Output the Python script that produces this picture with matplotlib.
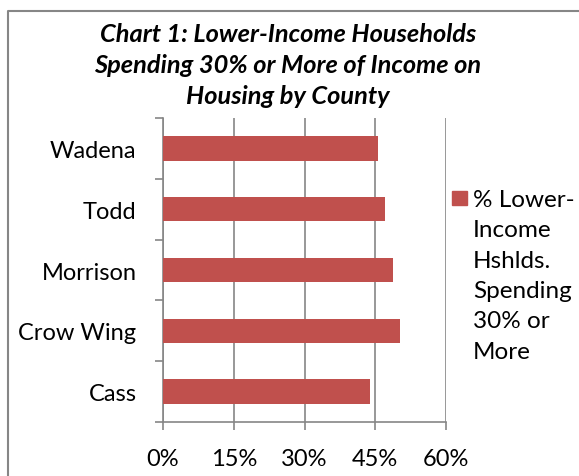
import matplotlib.pyplot as plt
from matplotlib.lines import Line2D
from matplotlib.patches import Rectangle

# Datos del gráfico (de abajo hacia arriba)
counties = ['Cass', 'Crow Wing', 'Morrison', 'Todd', 'Wadena']
pct_spending = [43.9, 50.2, 48.7, 47.0, 45.5]
x_ticks = [0, 15, 30, 45, 60]
x_tick_labels = ['0%', '15%', '30%', '45%', '60%']
title_lines = ['Chart 1: Lower-Income Households',
               'Spending 30% or More of Income on',
               'Housing by County']
legend_label = '% Lower-\nIncome\nHshlds.\nSpending\n30% or\nMore'

bar_color = '#C0504D'
grey = '#868686'
W, H = 579, 477

plt.rcParams['font.family'] = ['Lato', 'DejaVu Sans']

fig = plt.figure(figsize=(W / 100, H / 100), dpi=100)
ax = fig.add_axes([163 / W, 1 - 423 / H, (446 - 163) / W, (423 - 119) / H])

ax.barh(range(len(counties)), pct_spending, height=0.4, color=bar_color, zorder=3)

ax.set_xlim(0, 60)
ax.set_ylim(-0.5, len(counties) - 0.5)
ax.set_xticks(x_ticks)
ax.set_xticklabels(x_tick_labels, fontsize=17)
ax.set_yticks(range(len(counties)))
ax.set_yticklabels(counties, fontsize=17)
ax.set_yticks([i - 0.5 for i in range(len(counties) + 1)], minor=True)

ax.tick_params(axis='x', length=6, width=1.2, color=grey, pad=13)
ax.tick_params(axis='y', which='major', length=0, pad=19)
ax.tick_params(axis='y', which='minor', length=5.5, width=1.2, color=grey)

ax.grid(axis='x', color=grey, linewidth=1.2, zorder=0)
for s in ['top', 'right']:
    ax.spines[s].set_visible(False)
for s in ['left', 'bottom']:
    ax.spines[s].set_color(grey)
    ax.spines[s].set_linewidth(1.2)

# Titulo en tres lineas
for i, line in enumerate(title_lines):
    fig.text(288 / W, 1 - (41.5 + 31.5 * i) / H, line, ha='center', va='baseline',
             fontsize=18.3, fontweight='bold', fontstyle='italic')

# Leyenda manual
fig.add_artist(Rectangle((452 / W, 1 - 206 / H), 15 / W, 14 / H,
                         transform=fig.transFigure, color=bar_color))
fig.text(473 / W, 1 - 190 / H, legend_label, ha='left', va='top',
         fontsize=17.5, linespacing=1.55)

# Borde del recuadro
fig.add_artist(Line2D([8 / W, 8 / W, 1], [0, 1 - 12 / H, 1 - 12 / H],
                      transform=fig.transFigure, color=grey, linewidth=1.5))

fig.savefig('out.png', dpi=100)
